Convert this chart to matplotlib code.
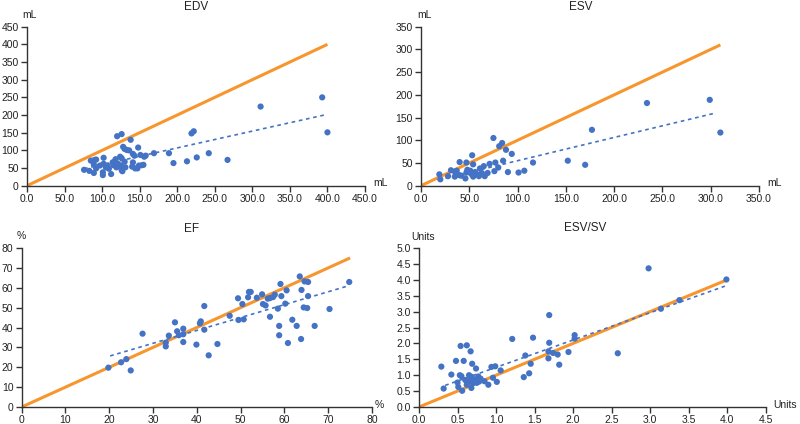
import matplotlib
matplotlib.use('Agg')
import matplotlib.pyplot as plt

# ---------------- data ----------------
# EDV panel (mL)
edv_x = [76, 83, 85, 89, 89, 90, 92, 92, 97, 101, 101, 102, 102, 105, 107, 109,
         112, 114, 115, 117, 118, 119, 120, 121, 123, 124, 125, 126, 126, 126,
         127, 128, 130, 130, 131, 133, 136, 138, 140, 141, 141, 143, 144, 147,
         148, 149, 151, 153, 155, 156, 158, 169, 189, 195, 213, 219, 222, 226,
         242, 267, 311, 393, 400]
edv_y = [45, 42, 71, 60, 36, 73, 74, 49, 57, 38, 30, 79, 62, 52, 57, 48,
         33, 66, 58, 70, 75, 52, 140, 62, 55, 82, 57, 146, 78, 44,
         41, 110, 104, 68, 52, 101, 100, 130, 54, 66, 90, 85, 49, 49,
         108, 57, 87, 58, 59, 82, 85, 92, 92, 64, 69, 148, 154, 80,
         92, 73, 224, 250, 151]
edv_trend_x = [76, 400]
edv_trend_y = [48, 202]
edv_identity = [0, 400]

# ESV panel (mL)
esv_x = [19, 20, 28, 31, 35, 35, 37, 38, 40, 40, 42, 46, 47, 47, 48, 51, 52,
         53, 54, 54, 56, 58, 60, 61, 63, 65, 66, 69, 71, 76, 75, 77, 80, 81,
         84, 85, 88, 90, 94, 101, 107, 116, 152, 170, 177, 234, 299, 310]
esv_y = [25, 14, 21, 34, 31, 20, 33, 24, 52, 23, 22, 16, 51, 29, 35, 33, 26,
         67, 47, 20, 30, 25, 21, 38, 28, 43, 21, 28, 48, 32, 105, 51, 40, 87,
         94, 55, 79, 30, 70, 29, 33, 51, 55, 46, 123, 182, 189, 117]
esv_trend_x = [18, 305]
esv_trend_y = [13, 160]
esv_identity = [0, 310]

# EF panel (%)
ef_x = [19.8, 22.7, 23.9, 24.9, 27.6, 32.9, 32.9, 33.6, 35.0, 35.5, 35.9, 36.9,
        36.9, 36.9, 39.9, 40.7, 40.9, 41.7, 41.7, 42.7, 44.7, 47.5, 49.4, 49.5,
        50.4, 50.7, 51.7, 51.9, 52.3, 53.7, 54.9, 55.1, 55.7, 56.2, 56.7, 57.4,
        57.8, 56.7, 58.5, 58.8, 58.8, 59.1, 59.3, 60.2, 60.5, 60.8, 61.8, 62.8,
        63.5, 63.8, 63.9, 64.4, 64.6, 65.4, 65.2, 65.4, 66.9, 70.3, 74.8]
ef_y = [19.8, 22.5, 24.1, 18.4, 36.9, 32.4, 30.5, 35.9, 42.6, 38.1, 36.1, 39.4,
        36.6, 32.7, 31.4, 42.1, 43.1, 38.9, 50.8, 26.0, 31.7, 45.9, 54.7, 43.8,
        51.8, 44.1, 55.2, 57.9, 57.9, 55.0, 56.7, 51.8, 51.1, 54.5, 54.8, 55.3,
        56.5, 45.4, 49.5, 40.8, 36.1, 61.9, 55.8, 52.0, 58.7, 32.2, 43.9, 40.8,
        65.7, 34.2, 58.9, 50.1, 63.2, 62.9, 49.8, 55.8, 40.8, 49.3, 62.9]
ef_trend_x = [20.2, 74.5]
ef_trend_y = [25.7, 60.9]
ef_identity = [0, 75]

# ESV/SV panel (units)
ratio_x = [0.29, 0.32, 0.42, 0.48, 0.50, 0.51, 0.53, 0.54, 0.55, 0.56, 0.58,
           0.60, 0.62, 0.62, 0.63, 0.65, 0.66, 0.67, 0.68, 0.68, 0.69, 0.70,
           0.72, 0.74, 0.75, 0.77, 0.78, 0.80, 0.85, 0.90, 0.94, 0.96, 0.99,
           1.01, 1.06, 1.21, 1.36, 1.38, 1.43, 1.45, 1.48, 1.68, 1.68, 1.69,
           1.69, 1.74, 1.80, 1.82, 1.94, 2.02, 2.02, 2.58, 2.98, 3.14, 3.38,
           3.99]
ratio_y = [1.27, 0.58, 1.02, 1.45, 0.77, 0.63, 1.00, 1.92, 0.97, 0.51, 1.45,
           0.85, 1.94, 0.70, 0.78, 1.00, 0.82, 1.75, 0.60, 0.95, 1.36, 0.75,
           0.87, 1.21, 0.76, 0.96, 0.80, 0.89, 0.81, 0.70, 1.26, 0.92, 1.28,
           0.79, 1.15, 2.14, 0.94, 1.62, 1.06, 1.36, 2.18, 1.53, 1.75, 2.02,
           2.89, 1.70, 1.65, 1.33, 1.73, 2.15, 2.26, 1.69, 4.36, 3.09, 3.36,
           4.01]
ratio_trend_x = [0.34, 3.97]
ratio_trend_y = [0.68, 3.80]
ratio_identity = [0, 4.0]

ORANGE = '#F7962D'
BLUE = '#4472C4'
W, H = 800, 424


def fig_text(fig, px, py, s, size=7.5):
    # place text by pixel position of the 800x424 figure
    fig.text(px / W, 1 - py / H, s, ha='center', va='center',
             fontsize=size, color='#222222')


def draw_panel(ax, xs, ys, tx, ty, ident, xmax, xstep, ymax, ystep, xfmt, yfmt):
    ax.plot(ident, ident, color=ORANGE, lw=2.2, zorder=2, solid_capstyle='butt')
    ax.scatter(xs, ys, s=20, color=BLUE, edgecolors='none', zorder=3, clip_on=False)
    ax.plot(tx, ty, color=BLUE, lw=1.2, ls=(0, (2.2, 2.2)), zorder=4)

    ax.set_xlim(0, xmax)
    ax.set_ylim(0, ymax)
    nx = int(round(xmax / xstep))
    ny = int(round(ymax / ystep))
    xt = [i * xstep for i in range(nx + 1)]
    yt = [i * ystep for i in range(ny + 1)]
    ax.set_xticks(xt)
    ax.set_xticklabels([xfmt.format(v) for v in xt])
    ax.set_yticks(yt)
    ax.set_yticklabels([yfmt.format(v) for v in yt])

    for side in ['top', 'right']:
        ax.spines[side].set_visible(False)
    for side in ['left', 'bottom']:
        ax.spines[side].set_color('#333333')
        ax.spines[side].set_linewidth(1.0)
    ax.tick_params(direction='out', length=4, width=1, color='#333333',
                   labelsize=7.5, labelcolor='#222222', pad=2)


def main():
    plt.rcParams['font.family'] = ['Liberation Sans', 'DejaVu Sans']
    fig = plt.figure(figsize=(8, 4.24), dpi=100)

    # axes boxes in pixels: left, top, right, bottom
    boxes = {
        'EDV': (27, 26.7, 365, 185.7),
        'ESV': (421, 26.7, 759, 185.7),
        'EF': (21.7, 248, 372, 407),
        'RATIO': (419, 248, 765.7, 407),
    }
    axes = {}
    for key, (l, t, r, b) in boxes.items():
        axes[key] = fig.add_axes([l / W, 1 - b / H, (r - l) / W, (b - t) / H])

    draw_panel(axes['EDV'], edv_x, edv_y, edv_trend_x, edv_trend_y, edv_identity,
               450, 50, 450, 50, '{:.1f}', '{:.0f}')
    draw_panel(axes['ESV'], esv_x, esv_y, esv_trend_x, esv_trend_y, esv_identity,
               350, 50, 350, 50, '{:.1f}', '{:.0f}')
    draw_panel(axes['EF'], ef_x, ef_y, ef_trend_x, ef_trend_y, ef_identity,
               80, 10, 80, 10, '{:.0f}', '{:.0f}')
    draw_panel(axes['RATIO'], ratio_x, ratio_y, ratio_trend_x, ratio_trend_y,
               ratio_identity, 4.5, 0.5, 5.0, 0.5, '{:.1f}', '{:.1f}')

    # titles
    fig_text(fig, 196, 7, 'EDV', 8.5)
    fig_text(fig, 581, 7, 'ESV', 8.5)
    fig_text(fig, 192, 229, 'EF', 8.5)
    fig_text(fig, 585, 228, 'ESV/SV', 8.5)

    # unit labels
    fig_text(fig, 29, 15, 'mL')
    fig_text(fig, 380, 183, 'mL')
    fig_text(fig, 424, 15, 'mL')
    fig_text(fig, 774, 183, 'mL')
    fig_text(fig, 21, 236, '%')
    fig_text(fig, 379, 405, '%')
    fig_text(fig, 423, 237, 'Units')
    fig_text(fig, 785, 405, 'Units')

    fig.savefig('out.png', dpi=100, facecolor='white')


if __name__ == '__main__':
    main()
